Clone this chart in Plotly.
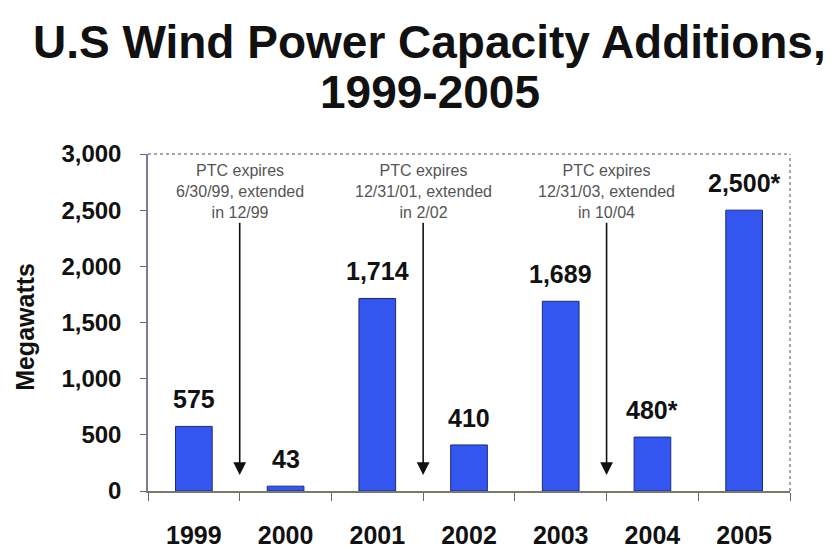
import plotly.graph_objects as go

# Annual U.S. wind capacity additions (MW); starred years are estimates
years = ["1999", "2000", "2001", "2002", "2003", "2004", "2005"]
capacity_mw = [575, 43, 1714, 410, 1689, 480, 2500]
estimated = [False, False, False, False, False, True, True]

# Production Tax Credit lapses, placed between year slots (slot index + 0.5)
ptc_positions = [0.5, 2.5, 4.5]
ptc_notes = [
    "PTC expires<br>6/30/99, extended<br>in 12/99",
    "PTC expires<br>12/31/01, extended<br>in 2/02",
    "PTC expires<br>12/31/03, extended<br>in 10/04",
]
arrow_tip_mw = 142
note_center_mw = 2665

y_ticks = [0, 500, 1000, 1500, 2000, 2500, 3000]

FONT = "Liberation Sans, Arial, sans-serif"
BAR_BLUE = "#3356f0"

slots = list(range(len(years)))
boundaries = [i - 0.5 for i in slots] + [slots[-1] + 0.5]

fig = go.Figure()
fig.add_trace(go.Bar(
    x=slots,
    y=capacity_mw,
    width=0.4,
    marker=dict(color=BAR_BLUE, line=dict(color="#1c2b78", width=1)),
    customdata=years,
    hovertemplate="%{customdata}: %{y:,} MW<extra></extra>",
))

annotations = []
# value labels above each bar
for s, v, est in zip(slots, capacity_mw, estimated):
    annotations.append(dict(
        x=s, y=v, xref="x", yref="y",
        text=f"{v:,}" + ("*" if est else ""),
        showarrow=False, yanchor="middle", yshift=27,
        font=dict(family=FONT, size=25, color="#111111", weight="bold"),
    ))

# PTC notes with arrows pointing down to the gap between years
for pos, note in zip(ptc_positions, ptc_notes):
    annotations.append(dict(
        x=pos, y=arrow_tip_mw, xref="x", yref="y",
        ax=pos, ay=note_center_mw, axref="x", ayref="y",
        text=note, showarrow=True,
        arrowhead=2, arrowsize=1.6, arrowwidth=1.6, arrowcolor="#111111",
        font=dict(family=FONT, size=16, color="#555555"),
        align="center",
    ))

# two-line title
annotations.append(dict(
    x=0.439, y=1.332, xref="paper", yref="paper",
    text="U.S Wind Power Capacity Additions,", showarrow=False,
    xanchor="center", yanchor="middle",
    font=dict(family=FONT, size=46, color="#111111", weight="bold"),
))
annotations.append(dict(
    x=0.439, y=1.184, xref="paper", yref="paper",
    text="1999-2005", showarrow=False,
    xanchor="center", yanchor="middle",
    font=dict(family=FONT, size=46, color="#111111", weight="bold"),
))
# y-axis title
annotations.append(dict(
    x=-0.1916, y=0.487, xref="paper", yref="paper",
    text="Megawatts", showarrow=False, textangle=-90,
    xanchor="center", yanchor="middle",
    font=dict(family=FONT, size=25, color="#111111", weight="bold"),
))

fig.update_layout(
    width=837, height=552,
    margin=dict(l=148, r=47, t=154, b=61),
    paper_bgcolor="white", plot_bgcolor="white",
    showlegend=False,
    annotations=annotations,
    shapes=[
        # dotted frame on the top and right of the plot area
        dict(type="line", xref="paper", yref="paper", x0=0, x1=1, y0=1, y1=1,
             line=dict(color="#8a8a8a", width=1.5, dash="dot")),
        dict(type="line", xref="paper", yref="paper", x0=1, x1=1, y0=0, y1=1,
             line=dict(color="#8a8a8a", width=1.5, dash="dot")),
    ],
)

fig.update_xaxes(
    automargin=False,
    range=[boundaries[0], boundaries[-1]],
    tickvals=slots, ticktext=years,
    ticks="",
    minor=dict(tickvals=boundaries, ticks="outside", ticklen=8,
               tickcolor="#666666", showgrid=False),
    showline=True, linecolor="#7a7a6a", linewidth=1.5,
    showgrid=False, zeroline=False,
    tickfont=dict(family=FONT, size=25, color="#111111", weight="bold"),
    ticklabelstandoff=21,
)
fig.update_yaxes(
    automargin=False,
    range=[0, 3000],
    tickvals=y_ticks, tickformat=",",
    ticks="outside", ticklen=6, tickcolor="#666666",
    showline=True, linecolor="#7a7a9a", linewidth=1.5,
    showgrid=False, zeroline=False,
    tickfont=dict(family=FONT, size=24, color="#111111", weight="bold"),
    ticklabelstandoff=14,
)

fig.write_html("out.html")
